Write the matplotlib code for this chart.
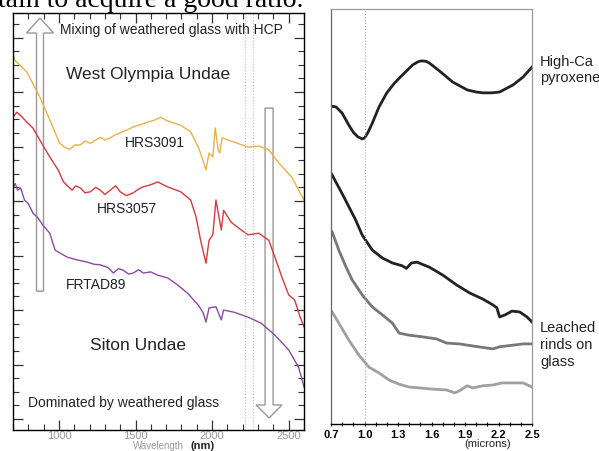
import matplotlib
matplotlib.use("Agg")
import matplotlib.pyplot as plt
from matplotlib.ticker import MultipleLocator, NullFormatter
from matplotlib.patches import FancyArrow

plt.rcParams['font.family'] = ['Liberation Sans', 'DejaVu Sans']

# left panel: spectra (wavelength in nm, offset reflectance)
hrs3091_nm = [700, 710, 790, 875, 940, 1005, 1040, 1070, 1105, 1140, 1170, 1205, 1240, 1270,
              1300, 1335, 1370, 1400, 1440, 1485, 1530, 1580, 1620, 1665, 1700, 1730, 1795,
              1860, 1910, 1940, 1960, 1980, 2005, 2020, 2040, 2050, 2065, 2145, 2235, 2305,
              2370, 2435, 2520, 2600]
hrs3091_r = [0.672, 0.659, 0.637, 0.591, 0.549, 0.506, 0.498, 0.495, 0.503, 0.503, 0.510, 0.506,
             0.512, 0.517, 0.512, 0.516, 0.522, 0.525, 0.530, 0.536, 0.540, 0.545, 0.548, 0.554,
             0.548, 0.545, 0.539, 0.527, 0.499, 0.475, 0.457, 0.488, 0.481, 0.534, 0.494, 0.488,
             0.516, 0.508, 0.499, 0.501, 0.494, 0.470, 0.444, 0.402]

hrs3057_nm = [700, 725, 760, 790, 830, 875, 940, 995, 1030, 1085, 1110, 1140, 1170, 1205, 1240,
              1270, 1300, 1335, 1370, 1400, 1440, 1485, 1520, 1550, 1600, 1645, 1710, 1795,
              1860, 1895, 1925, 1960, 1980, 2005, 2025, 2060, 2075, 2125, 2190, 2235, 2305,
              2370, 2410, 2455, 2500, 2540, 2575, 2600]
hrs3057_r = [0.554, 0.563, 0.554, 0.545, 0.534, 0.512, 0.481, 0.457, 0.435, 0.420, 0.428, 0.424,
             0.415, 0.417, 0.425, 0.420, 0.412, 0.420, 0.428, 0.417, 0.410, 0.415, 0.422, 0.426,
             0.430, 0.435, 0.426, 0.417, 0.402, 0.371, 0.328, 0.286, 0.328, 0.338, 0.402, 0.347,
             0.383, 0.361, 0.347, 0.338, 0.341, 0.328, 0.297, 0.261, 0.228, 0.218, 0.187, 0.169]

frtad89_nm = [700, 715, 730, 750, 775, 800, 830, 860, 895, 940, 975, 1005, 1055, 1120, 1185,
              1230, 1270, 1320, 1355, 1390, 1420, 1455, 1485, 1520, 1550, 1600, 1645, 1710,
              1775, 1840, 1910, 1940, 1960, 1980, 2025, 2060, 2075, 2145, 2235, 2320, 2410,
              2500, 2565, 2600]
frtad89_r = [0.426, 0.432, 0.420, 0.424, 0.402, 0.395, 0.378, 0.370, 0.356, 0.341, 0.310, 0.305,
             0.297, 0.292, 0.288, 0.284, 0.283, 0.278, 0.268, 0.276, 0.273, 0.266, 0.268, 0.274,
             0.268, 0.270, 0.264, 0.259, 0.246, 0.231, 0.209, 0.196, 0.178, 0.204, 0.206, 0.182,
             0.200, 0.196, 0.187, 0.176, 0.154, 0.127, 0.095, 0.059]

# right panel: lab spectra (microns)
hcp_um = [0.70, 0.745, 0.80, 0.86, 0.90, 0.94, 0.98, 1.00, 1.03, 1.07, 1.13, 1.20, 1.27, 1.34,
          1.43, 1.48, 1.51, 1.55, 1.58, 1.67, 1.79, 1.92, 2.00, 2.06, 2.14, 2.21, 2.33, 2.42, 2.50]
hcp_r = [0.766, 0.764, 0.749, 0.720, 0.703, 0.692, 0.687, 0.689, 0.702, 0.725, 0.764, 0.798,
         0.822, 0.841, 0.865, 0.873, 0.875, 0.874, 0.870, 0.851, 0.824, 0.805, 0.800, 0.798,
         0.798, 0.800, 0.817, 0.836, 0.860]

mix_um = [0.70, 0.80, 0.92, 0.98, 1.07, 1.16, 1.25, 1.34, 1.375, 1.42, 1.47, 1.58, 1.70, 1.825,
          1.94, 2.06, 2.15, 2.185, 2.21, 2.26, 2.32, 2.39, 2.455, 2.50]
mix_r = [0.605, 0.555, 0.492, 0.455, 0.419, 0.400, 0.388, 0.381, 0.375, 0.388, 0.390, 0.378,
         0.359, 0.335, 0.316, 0.301, 0.287, 0.280, 0.258, 0.263, 0.272, 0.270, 0.258, 0.246]

rind1_um = [0.71, 0.77, 0.835, 0.89, 0.98, 1.07, 1.16, 1.25, 1.31, 1.40, 1.52, 1.645, 1.735,
            1.85, 1.97, 2.095, 2.15, 2.21, 2.33, 2.42, 2.50]
rind1_r = [0.463, 0.419, 0.378, 0.347, 0.311, 0.282, 0.263, 0.243, 0.219, 0.214, 0.210, 0.205,
           0.195, 0.193, 0.188, 0.183, 0.181, 0.186, 0.190, 0.193, 0.193]

rind2_um = [0.71, 0.77, 0.86, 0.95, 1.04, 1.13, 1.22, 1.31, 1.40, 1.49, 1.61, 1.735, 1.81, 1.85,
            1.92, 1.97, 2.06, 2.15, 2.23, 2.33, 2.42, 2.50]
rind2_r = [0.270, 0.243, 0.202, 0.166, 0.137, 0.123, 0.106, 0.096, 0.089, 0.087, 0.084, 0.082,
           0.075, 0.080, 0.092, 0.087, 0.092, 0.094, 0.099, 0.099, 0.099, 0.089]

nm_ticks = [1000, 1500, 2000, 2500]
um_ticks = [0.7, 1.0, 1.3, 1.6, 1.9, 2.2, 2.5]
band_nm = [2215, 2265]

W, H = 599, 451


def px(x, y):
    return x / W, 1 - y / H


fig = plt.figure(figsize=(W / 100, H / 100), dpi=100)

# ---- left panel
ax = fig.add_axes([13 / W, 1 - 430 / H, 291 / W, 417 / H])
ax.plot(hrs3091_nm, hrs3091_r, color="#e8b24a", lw=1.0)
ax.plot(hrs3057_nm, hrs3057_r, color="#d23b3f", lw=1.0)
ax.plot(frtad89_nm, frtad89_r, color="#8c4b9f", lw=1.0)
for b in band_nm:
    ax.axvline(b, color="#bbbbbb", lw=0.8, ls=":")
ax.set_xlim(700, 2600)
ax.set_ylim(-0.02, 0.745)
ax.set_xticks(nm_ticks)
ax.xaxis.set_minor_locator(MultipleLocator(100))
ax.yaxis.set_major_locator(MultipleLocator(0.1))
ax.yaxis.set_minor_locator(MultipleLocator(0.025))
ax.yaxis.set_major_formatter(NullFormatter())
ax.tick_params(which="both", direction="in", top=True, right=True, color="#333333")
ax.tick_params(which="major", length=7, width=0.9)
ax.tick_params(which="minor", length=4, width=0.8)
ax.tick_params(axis="x", labelsize=8, labelcolor="#999999", pad=0.5)
for s in ax.spines.values():
    s.set_linewidth(1.0)

up = FancyArrow(0.0928, 0.333, 0, 0.655, width=0.024, head_width=0.093, head_length=0.036,
                length_includes_head=True, transform=ax.transAxes, fill=False,
                edgecolor="#999999", lw=1.0)
down = FancyArrow(0.880, 0.772, 0, -0.743, width=0.0275, head_width=0.089, head_length=0.031,
                  length_includes_head=True, transform=ax.transAxes, fill=False,
                  edgecolor="#999999", lw=1.0)
ax.add_patch(up)
ax.add_patch(down)

fig.text(*px(60, 30), "Mixing of weathered glass with HCP", fontsize=10, va="center", color="#222222")
fig.text(*px(66, 75), "West Olympia Undae", fontsize=12.5, va="center", color="#222222")
fig.text(*px(125, 143), "HRS3091", fontsize=10, va="center", color="#222222")
fig.text(*px(97, 209), "HRS3057", fontsize=10, va="center", color="#222222")
fig.text(*px(66, 285), "FRTAD89", fontsize=10, va="center", color="#222222")
fig.text(*px(90, 346), "Siton Undae", fontsize=12.5, va="center", color="#222222")
fig.text(*px(28, 403), "Dominated by weathered glass", fontsize=10, va="center", color="#222222")
fig.text(*px(158, 446), "Wavelength", fontsize=7, ha="center", va="center", color="#999999")
fig.text(*px(203, 446), "(nm)", fontsize=8, ha="center", va="center", color="#222222",
         fontweight="bold")

fig.text(*px(-2, 7), "tain to acquire a good ratio.", family="Liberation Serif", fontsize=20,
         va="baseline", color="black")

# ---- right panel
ax2 = fig.add_axes([331 / W, 1 - 424 / H, 201 / W, 415 / H])
ax2.plot(hcp_um, hcp_r, color="#222222", lw=2.0)
ax2.plot(mix_um, mix_r, color="#222222", lw=2.0)
ax2.plot(rind1_um, rind1_r, color="#777777", lw=2.0)
ax2.plot(rind2_um, rind2_r, color="#a0a0a0", lw=2.0)
ax2.axvline(1.0, color="#aaaaaa", lw=0.8, ls=":")
ax2.set_xlim(0.7, 2.5)
ax2.set_ylim(0, 1)
ax2.set_xticks(um_ticks)
ax2.set_xticklabels(["%.1f" % t for t in um_ticks], fontweight="bold", fontsize=8)
ax2.xaxis.set_minor_locator(MultipleLocator(0.1))
ax2.set_yticks([])
ax2.tick_params(axis="x", which="both", direction="inout", length=3, width=0.8, pad=3)
for k in ["top", "right", "left"]:
    ax2.spines[k].set_color("#999999")
    ax2.spines[k].set_linewidth(0.9)
ax2.spines["left"].set_color("#666666")
ax2.spines["bottom"].set_linewidth(1.0)

fig.text(*px(488, 444), "(microns)", fontsize=8, ha="center", va="center", color="#222222")
fig.text(*px(540, 70), "High-Ca\npyroxene", fontsize=10.5, va="center", linespacing=1.25,
         color="#222222")
fig.text(*px(540, 345), "Leached\nrinds on\nglass", fontsize=10.5, va="center", linespacing=1.25,
         color="#222222")

fig.savefig("out.png", dpi=100)
